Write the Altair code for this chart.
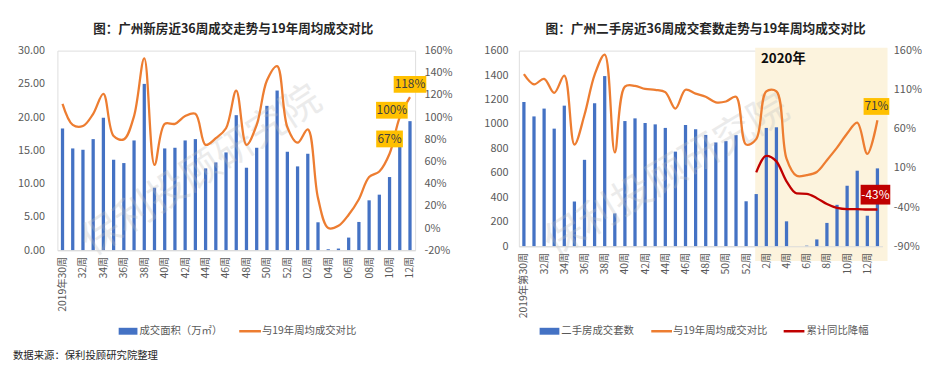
import altair as alt
import pandas as pd

FONT = "Noto Sans CJK SC"
BLUE = "#4472C4"
ORANGE = "#ED7D31"
RED = "#C00000"
GOLD = "#FFC000"
AXIS_GRAY = "#595959"

# ---------------- data: left panel (new homes) ----------------
weeks_left = ["2019年30周", "31周", "32周", "33周", "34周", "35周", "36周", "37周", "38周",
              "39周", "40周", "41周", "42周", "43周", "44周", "45周", "46周", "47周", "48周",
              "49周", "50周", "51周", "52周", "01周", "02周", "03周", "04周", "05周", "06周",
              "07周", "08周", "09周", "10周", "11周", "12周"]
area_left = [18.3, 15.3, 15.1, 16.7, 19.9, 13.6, 13.1, 16.5, 25.0, 9.4, 15.3, 15.4, 16.5,
             16.7, 12.3, 13.2, 14.7, 20.3, 12.4, 15.4, 21.7, 24.0, 14.8, 12.6, 14.5, 4.2,
             0.15, 0.25, 1.9, 4.25, 7.5, 8.35, 11.0, 16.4, 19.4]
ratio_left = [112, 93, 92, 103, 121, 83, 80, 101, 153, 57, 94, 94, 101, 103, 75, 81, 90, 124,
              75, 93, 133, 146, 91, 77, 89, 27, 0, 2, 12, 26, 46, 51, 67, 100, 118]
left_labelled = [32, 33, 34]

# ---------------- data: right panel (second-hand homes) ----------------
weeks_right = ["2019年第30周", "31周", "32周", "33周", "34周", "35周", "36周", "37周", "38周",
               "39周", "40周", "41周", "42周", "43周", "44周", "45周", "46周", "47周", "48周",
               "49周", "50周", "51周", "52周", "1周", "2周", "3周", "4周", "5周", "6周", "7周",
               "8周", "9周", "10周", "11周", "12周", "13周"]
sets_right = [1180, 1062, 1126, 962, 1150, 366, 707, 1169, 1392, 269, 1024, 1046, 1008, 997,
              968, 774, 992, 957, 911, 849, 860, 909, 368, 427, 968, 973, 204, 0, 5, 56, 191,
              339, 495, 618, 250, 637]
ratio_right = [130, 117, 124, 106, 128, 40, 78, 129, 155, 30, 114, 115, 111, 110, 107, 86,
               110, 105, 101, 94, 95, 101, 40, 47, 108, 108, 22, 0, 1, 5, 20, 36, 54, 68, 28, 71]
cum_start = 23
cum_right = [4.5, 25.5, 18.5, -7, -22.5, -23, -28.5, -36, -41, -42.5, -42.5, -43, -43]

TITLE_L = "图：广州新房近36周成交走势与19年周均成交对比"
TITLE_R = "图：广州二手房近36周成交套数走势与19年周均成交对比"
SOURCE = "数据来源：保利投顾研究院整理"
WATERMARK = "保利投顾研究院"

one = pd.DataFrame({"k": [0]})


def x_enc(field, weeks):
    arr = "[" + ",".join("'" + w + "'" for w in weeks) + "]"
    return alt.X(field, type="quantitative",
                 scale=alt.Scale(domain=[-0.5, len(weeks) - 0.5], nice=False, zero=False,
                                 padding=0),
                 axis=alt.Axis(values=list(range(0, len(weeks), 2)),
                               labelExpr=arr + "[datum.value]",
                               labelAngle=270, labelFontSize=10.5, labelPadding=6,
                               labelColor=AXIS_GRAY, labelFont=FONT, labelOverlap=False,
                               labelFlush=False, ticks=False, grid=False, zindex=1,
                               domainColor="#D9D9D9", domainWidth=1, title=None))


def y_axis(values, orient, pad, fmt=None, expr=None):
    kw = dict(values=values, orient=orient, labelPadding=pad, labelFontSize=11,
              labelColor=AXIS_GRAY, labelFont=FONT, ticks=False, domain=False,
              grid=False, title=None)
    if fmt:
        kw["format"] = fmt
    if expr:
        kw["labelExpr"] = expr
    return alt.Axis(**kw)


def label_box(df, xe, ye, idx, field, dx, dy, w, h, bg, fg):
    d = df[df["i"] == idx].copy()
    d["t"] = d[field].map(lambda v: f"{v:g}%")
    box = alt.Chart(d).mark_rect(color=bg, xOffset=dx - w / 2, x2Offset=dx + w / 2,
                                  yOffset=dy - h / 2, y2Offset=dy + h / 2).encode(
        x=xe, x2=alt.X2("i"), y=ye, y2=alt.Y2(field))
    txt = alt.Chart(d).mark_text(dx=dx, dy=dy, fontSize=12, color=fg, font=FONT).encode(
        x=xe, y=ye, text="t:N")
    return [box, txt]


def legend_rect(x, y, w, color):
    return alt.Chart(one).mark_rect(color=color).encode(
        x=alt.value(x), x2=alt.value(x + w), y=alt.value(y - 3.5), y2=alt.value(y + 3.5))


def legend_line(x, y, w, color):
    return alt.Chart(one).mark_rule(color=color, strokeWidth=2.5).encode(
        x=alt.value(x), x2=alt.value(x + w), y=alt.value(y))


def text_at(x, y, s, size=10.5, color=AXIS_GRAY, weight="normal", angle=0, opacity=1.0,
            align="left"):
    return alt.Chart(one).mark_text(align=align, baseline="middle", fontSize=size,
                                    color=color, font=FONT, fontWeight=weight,
                                    angle=angle, opacity=opacity).encode(
        x=alt.value(x), y=alt.value(y), text=alt.value(s))


# ---------------- left panel ----------------
WL, HL = 362, 202
dfL = pd.DataFrame({"i": list(range(len(weeks_left))), "wk": weeks_left,
                    "v": area_left, "r": ratio_left})
xL = x_enc("i", weeks_left)
yLv = alt.Y("v:Q", scale=alt.Scale(domain=[0, 30], nice=False),
            axis=y_axis([0, 5, 10, 15, 20, 25, 30], "left", 13, fmt=".2f"))
yLr = alt.Y("r:Q", scale=alt.Scale(domain=[-20, 160], nice=False),
            axis=y_axis(list(range(-20, 161, 20)), "right", 9, expr="datum.value + '%'"))

barsL = alt.Chart(dfL).mark_bar(size=3.3, color=BLUE).encode(x=xL, y=yLv)
lineL = alt.Chart(dfL).mark_line(color=ORANGE, strokeWidth=2.3,
                                 interpolate="catmull-rom").encode(x=xL, y=yLr)
offsL = {32: (0, -15, 27, 17), 33: (-8, -7, 32, 17), 34: (0, -13, 33, 17)}
labsL = []
for k in left_labelled:
    dx, dy, w, h = offsL[k]
    labsL += label_box(dfL, xL, yLr, k, "r", dx, dy, w, h, GOLD, "#404040")
innerL = alt.layer(lineL, *labsL)

left = alt.layer(
    barsL,
    text_at(146, 122, WATERMARK, size=40, color="#bfbfbf", angle=327, opacity=0.3,
            align="center"),
    innerL,
    legend_rect(62, 284, 19, BLUE),
    text_at(83, 284, "成交面积（万㎡）"),
    legend_line(184, 284, 22, ORANGE),
    text_at(207, 284, "与19年周均成交对比"),
    text_at(-45, 309, SOURCE, color="#262626"),
).resolve_scale(y="independent").properties(
    width=WL, height=HL,
    title=alt.TitleParams(TITLE_L, fontSize=12.7, fontWeight="bold", font=FONT,
                          color="#262626", anchor="middle", frame="group", dx=-3,
                          offset=9))

# ---------------- right panel ----------------
WR, HR = 368, 198
dfR = pd.DataFrame({"i": list(range(len(weeks_right))), "wk": weeks_right,
                    "v": sets_right, "r": ratio_right})
dfC = pd.DataFrame({"i": list(range(cum_start, cum_start + len(cum_right))),
                    "c": cum_right})
xR = x_enc("i", weeks_right)
yRv = alt.Y("v:Q", scale=alt.Scale(domain=[0, 1600], nice=False),
            axis=y_axis(list(range(0, 1601, 200)), "left", 11, fmt="d"))
rscale = alt.Scale(domain=[-90, 160], nice=False)
rax = y_axis([-90, -40, 10, 60, 110, 160], "right", 11, expr="datum.value + '%'")
yRr = alt.Y("r:Q", scale=rscale, axis=rax)
yRc = alt.Y("c:Q", scale=rscale, axis=rax)

hl = pd.DataFrame({"i": [cum_start - 0.1], "e": [len(weeks_right)]})
band = alt.Chart(hl).mark_rect(color="#FCF3DD").encode(
    x=xR, x2="e:Q", y=alt.value(-3), y2=alt.value(HR + 15))

barsR = alt.Chart(dfR).mark_bar(size=3.3, color=BLUE).encode(x=xR, y=yRv)
lineR = alt.Chart(dfR).mark_line(color=ORANGE, strokeWidth=2.3,
                                 interpolate="catmull-rom").encode(x=xR, y=yRr)
cumR = alt.Chart(dfC).mark_line(color=RED, strokeWidth=2.3,
                                interpolate="monotone").encode(x=xR, y=yRc)
lab71 = label_box(dfR, xR, yRr, len(weeks_right) - 1, "r", -1, -14, 26, 17, GOLD, "#404040")
labC = label_box(dfC, xR, yRc, len(weeks_right) - 1, "c", -2, -15, 30, 20, RED, "white")
innerR = alt.layer(lineR, cumR, *lab71, *labC)

right = alt.layer(
    band,
    barsR,
    text_at(150, 127, WATERMARK, size=40, color="#bfbfbf", angle=329, opacity=0.3,
            align="center"),
    innerR,
    text_at(245, 9, "2020年", size=13.5, color="#0d0d0d", weight="bold"),
    legend_rect(21, 284, 20, BLUE),
    text_at(43, 284, "二手房成交套数"),
    legend_line(134, 284, 21, ORANGE),
    text_at(156, 284, "与19年周均成交对比"),
    legend_line(268, 284, 21, RED),
    text_at(291, 284, "累计同比降幅"),
).resolve_scale(y="independent").properties(
    width=WR, height=HR,
    title=alt.TitleParams(TITLE_R, fontSize=12.8, fontWeight="bold", font=FONT,
                          color="#262626", anchor="middle", frame="group", dx=5,
                          offset=9))

chart = alt.hconcat(left, right, spacing=31).properties(
    padding={"left": 4, "top": 12, "right": 0, "bottom": 0}
).configure_view(stroke=None).configure(font=FONT)

chart.save("out.html", embed_options={"renderer": "svg", "actions": False})
